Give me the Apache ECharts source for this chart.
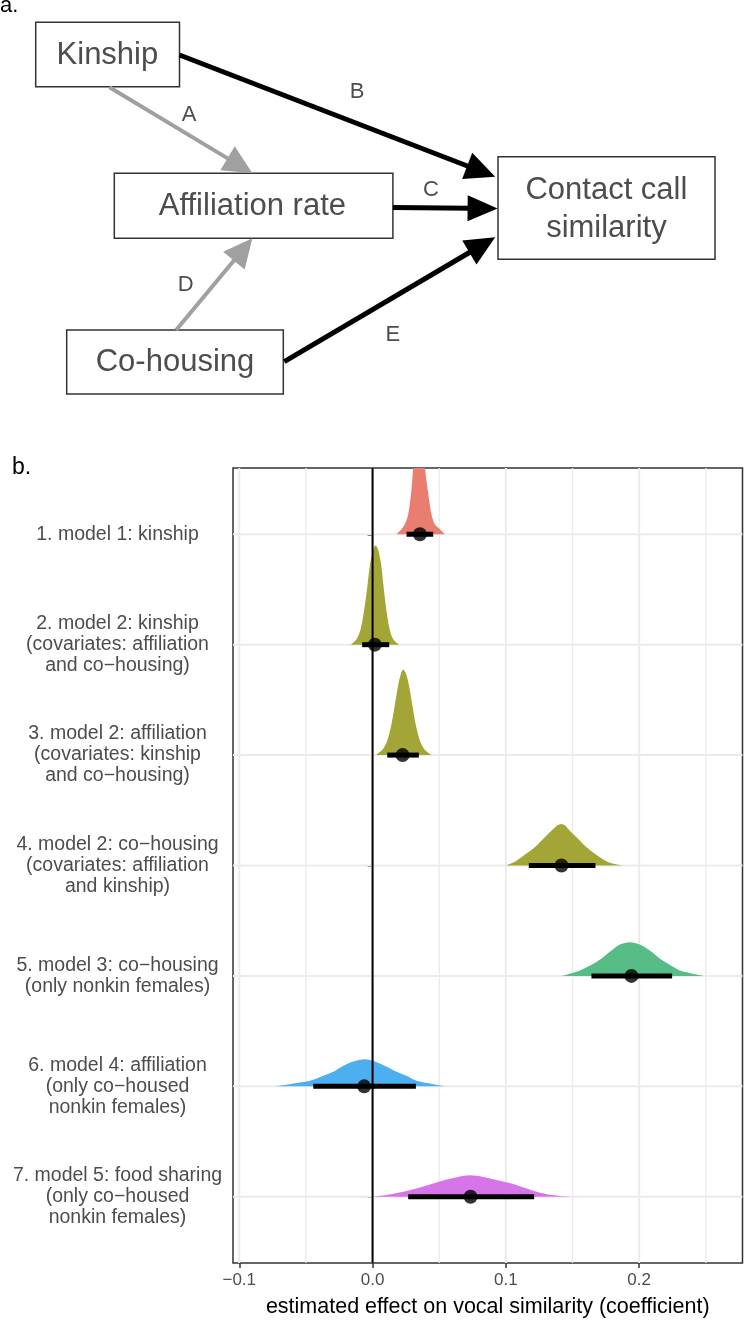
<!DOCTYPE html>
<html><head><meta charset="utf-8">
<script src="https://cdn.jsdelivr.net/npm/echarts@6/dist/echarts.min.js"></script>
<style>html,body{margin:0;padding:0;background:#fff}#c{width:744px;height:1323px}</style>
</head><body><div id="c"></div>
<script>
// ---------- data ----------
const rowLabels = [
  '1. model 1: kinship',
  '2. model 2: kinship\n(covariates: affiliation\nand co\u2212housing)',
  '3. model 2: affiliation\n(covariates: kinship\nand co\u2212housing)',
  '4. model 2: co\u2212housing\n(covariates: affiliation\nand kinship)',
  '5. model 3: co\u2212housing\n(only nonkin females)',
  '6. model 4: affiliation\n(only co\u2212housed\nnonkin females)',
  '7. model 5: food sharing\n(only co\u2212housed\nnonkin females)'
];
const rowIndex = [1, 2, 3, 4, 5, 6, 7];
const medians = [0.0355, 0.0017, 0.0225, 0.1417, 0.1942, -0.0063, 0.0735];
const lower95 = [0.0255, -0.0078, 0.0110, 0.1172, 0.1642, -0.0445, 0.0267];
const upper95 = [0.0455, 0.0125, 0.0347, 0.1672, 0.2247, 0.0325, 0.1212];

// density outlines: [estimate, height in row units]
const density1 = [[0.0180,0],[0.0217,0.045],[0.0242,0.09],[0.0267,0.18],[0.0285,0.33],[0.0297,0.48],[0.0307,0.63],[0.0322,0.78],[0.0347,0.88],[0.0372,0.78],[0.0390,0.63],[0.0405,0.48],[0.0422,0.33],[0.0442,0.18],[0.0467,0.09],[0.0505,0.045],[0.0542,0]];
const density2 = [[-0.0165,0],[-0.0120,0.05],[-0.0090,0.14],[-0.0065,0.30],[-0.0042,0.50],[-0.0020,0.72],[0.0005,0.86],[0.0022,0.90],[0.0042,0.86],[0.0065,0.72],[0.0085,0.50],[0.0105,0.30],[0.0128,0.14],[0.0155,0.05],[0.0200,0]];
const density3 = [[0.0025,0],[0.0075,0.05],[0.0110,0.13],[0.0140,0.27],[0.0165,0.44],[0.0190,0.62],[0.0213,0.74],[0.0230,0.775],[0.0250,0.74],[0.0275,0.62],[0.0300,0.44],[0.0325,0.27],[0.0355,0.13],[0.0390,0.05],[0.0440,0]];
const density4 = [[0.1000,0],[0.1060,0.03],[0.1117,0.075],[0.1217,0.165],[0.1292,0.255],[0.1355,0.33],[0.1385,0.362],[0.1417,0.375],[0.1445,0.362],[0.1467,0.33],[0.1530,0.255],[0.1605,0.165],[0.1705,0.075],[0.1780,0.025],[0.1880,0]];
const density5 = [[0.1420,0],[0.1555,0.05],[0.1655,0.11],[0.1730,0.17],[0.1792,0.23],[0.1855,0.285],[0.1930,0.306],[0.2005,0.285],[0.2080,0.23],[0.2142,0.17],[0.2217,0.11],[0.2305,0.05],[0.2490,0]];
const density6 = [[-0.0745,0],[-0.0620,0.02],[-0.0470,0.05],[-0.0370,0.096],[-0.0283,0.14],[-0.0220,0.186],[-0.0145,0.225],[-0.0058,0.246],[0.0017,0.225],[0.0092,0.186],[0.0167,0.14],[0.0255,0.096],[0.0330,0.05],[0.0455,0.02],[0.0555,0]];
const density7 = [[0.0005,0],[0.0105,0.015],[0.0230,0.045],[0.0330,0.075],[0.0455,0.12],[0.0555,0.156],[0.0642,0.18],[0.0730,0.195],[0.0830,0.18],[0.0917,0.156],[0.1042,0.12],[0.1155,0.075],[0.1230,0.045],[0.1343,0.015],[0.1480,0]];
const densities = [density1, density2, density3, density4, density5, density6, density7];

const xTickValues = [-0.1, 0, 0.1, 0.2];
const xMinorGrid = [-0.05, 0.05, 0.15, 0.25];
const refLine = [0];

// ---------- style ----------
const fillColors = ['#E97D70', '#A3A636', '#A3A636', '#A3A636', '#55BD85', '#4DAEF0', '#D675E8'];
const FONT = '"Liberation Sans", Arial, Helvetica, sans-serif';

const chart = echarts.init(document.getElementById('c'), null, { renderer: 'canvas' });

const densitySeries = densities.map((d, i) => {
  const row = rowIndex[i];
  return {
    type: 'line',
    data: d.map(p => [p[0], row - p[1]]),
    smooth: 0.3,
    symbol: 'none',
    showSymbol: false,
    silent: true,
    lineStyle: { width: 0, opacity: 0 },
    areaStyle: { color: fillColors[i], opacity: 1, origin: row },
    clip: true,
    z: 3
  };
});

// ---------- diagram (panel a) ----------
const DCOL = '#4D4D4D', BCOL = '#333333', GRAY = '#A0A0A0';
function box(x, y, w, h) {
  return { type: 'rect', shape: { x, y, width: w, height: h }, style: { fill: '#fff', stroke: BCOL, lineWidth: 1.5 }, z: 100 };
}
function txt(text, x, y, size, color, align) {
  return { type: 'text', style: { text, x, y, fill: color || DCOL, font: size + 'px ' + FONT, align: align || 'center', verticalAlign: 'middle', lineHeight: 38 }, z: 110 };
}
function arrow(x1, y1, x2, y2, color, lw, L, W) {
  const dx = x2 - x1, dy = y2 - y1, len = Math.hypot(dx, dy);
  const ux = dx / len, uy = dy / len, px = -uy, py = ux;
  const bx = x2 - ux * L, by = y2 - uy * L;
  return [
    { type: 'line', shape: { x1, y1, x2: bx + ux * 3, y2: by + uy * 3 }, style: { stroke: color, lineWidth: lw }, z: 105 },
    { type: 'polygon', shape: { points: [[x2, y2], [bx + px * W, by + py * W], [bx - px * W, by - py * W]] }, style: { fill: color }, z: 106 }
  ];
}
const graphics = [
  txt('a.', 0, 5.5, 22, '#000', 'left'),
  txt('b.', 12, 468, 23, '#000', 'left'),
  box(35.7, 22.3, 143.8, 64.4),
  box(114.3, 173.3, 278.6, 65),
  box(498, 156.7, 217, 102.6),
  box(66.7, 330, 216.6, 64),
  txt('Kinship', 107.4, 55, 31),
  txt('Affiliation rate', 252.4, 206, 31),
  txt('Contact call\nsimilarity', 606.4, 209, 31),
  txt('Co-housing', 175, 362.5, 31),
  ...arrow(109.5, 87.3, 252.4, 173.3, GRAY, 4, 29, 14),
  ...arrow(179.5, 55, 495.2, 176.7, '#000', 5, 30, 14),
  ...arrow(392.9, 207.5, 497.6, 208.5, '#000', 5, 30, 13),
  ...arrow(176.2, 330, 252.4, 238.3, GRAY, 4, 29, 14),
  ...arrow(284.3, 361.7, 495.2, 237.3, '#000', 5, 30, 14),
  txt('A', 189, 115, 22),
  txt('B', 357, 91.7, 22),
  txt('C', 431, 190, 22),
  txt('D', 185.7, 285, 22),
  txt('E', 392.9, 335, 22)
];

const option = {
  animation: false,
  backgroundColor: '#fff',
  grid: { left: 233, right: 1.5, top: 468, bottom: 55, show: true, borderColor: '#333', borderWidth: 1.5, backgroundColor: 'transparent', containLabel: false },
  xAxis: {
    type: 'value', min: -0.1047, max: 0.2775,
    name: 'estimated effect on vocal similarity (coefficient)',
    nameLocation: 'middle', nameGap: 33,
    nameTextStyle: { fontFamily: FONT, fontSize: 21.5, color: '#000' },
    axisLine: { show: false },
    axisTick: { show: true, length: 5, customValues: xTickValues, lineStyle: { color: '#333', width: 1.5 } },
    axisLabel: { customValues: xTickValues, margin: 9, fontFamily: FONT, fontSize: 17, color: '#4D4D4D',
      formatter: v => (v < 0 ? '\u2212' : '') + Math.abs(v).toFixed(1) },
    splitLine: { show: false }
  },
  yAxis: {
    type: 'value', min: 0.4, max: 7.6, inverse: true,
    axisLine: { show: false },
    axisTick: { show: true, length: 5, customValues: rowIndex, lineStyle: { color: '#333', width: 1.5 } },
    axisLabel: { customValues: rowIndex, margin: 115.5, align: 'center', fontFamily: FONT, fontSize: 19.5, lineHeight: 21, color: '#4D4D4D',
      padding: [5, 0, 0, 0],
      formatter: v => rowLabels[Math.round(v) - 1] },
    splitLine: { show: false }
  },
  graphic: graphics,
  series: [
    {
      type: 'custom', silent: true, z: 1,
      data: xTickValues.map(v => [v, 4, 1]).concat(xMinorGrid.map(v => [v, 4, 0])),
      renderItem: (params, api) => {
        const x = api.coord([api.value(0), 4])[0];
        const r = params.coordSys;
        return { type: 'line', shape: { x1: x, y1: r.y, x2: x, y2: r.y + r.height },
          style: { stroke: '#EBEBEB', lineWidth: api.value(2) ? 2 : 1.3 } };
      }
    },
    {
      type: 'custom', silent: true, z: 1,
      data: rowIndex.map(r => [0, r]),
      renderItem: (params, api) => {
        const y = api.coord([0, api.value(1)])[1];
        const r = params.coordSys;
        return { type: 'line', shape: { x1: r.x, y1: y, x2: r.x + r.width, y2: y },
          style: { stroke: '#EBEBEB', lineWidth: 2 } };
      }
    },
    ...densitySeries,
    {
      type: 'custom', silent: true, z: 4,
      data: refLine.map(v => [v, 4]),
      renderItem: (params, api) => {
        const x = api.coord([api.value(0), 4])[0];
        const r = params.coordSys;
        return { type: 'line', shape: { x1: x, y1: r.y, x2: x, y2: r.y + r.height },
          style: { stroke: '#000', lineWidth: 2 } };
      }
    },
    {
      type: 'custom', silent: true, z: 5,
      encode: { x: [0, 1], y: 2 },
      data: rowIndex.map((r, i) => [lower95[i], upper95[i], r]),
      renderItem: (params, api) => {
        const a = api.coord([api.value(0), api.value(2)]);
        const b = api.coord([api.value(1), api.value(2)]);
        return { type: 'line', shape: { x1: a[0], y1: a[1], x2: b[0], y2: b[1] },
          style: { stroke: '#000', lineWidth: 5, lineCap: 'butt' } };
      }
    },
    {
      type: 'scatter', silent: true, z: 6,
      data: medians.map((m, i) => [m, rowIndex[i]]),
      symbol: 'circle', symbolSize: 14,
      itemStyle: { color: '#000' }
    }
  ]
};
chart.setOption(option);
</script>
</body></html>
